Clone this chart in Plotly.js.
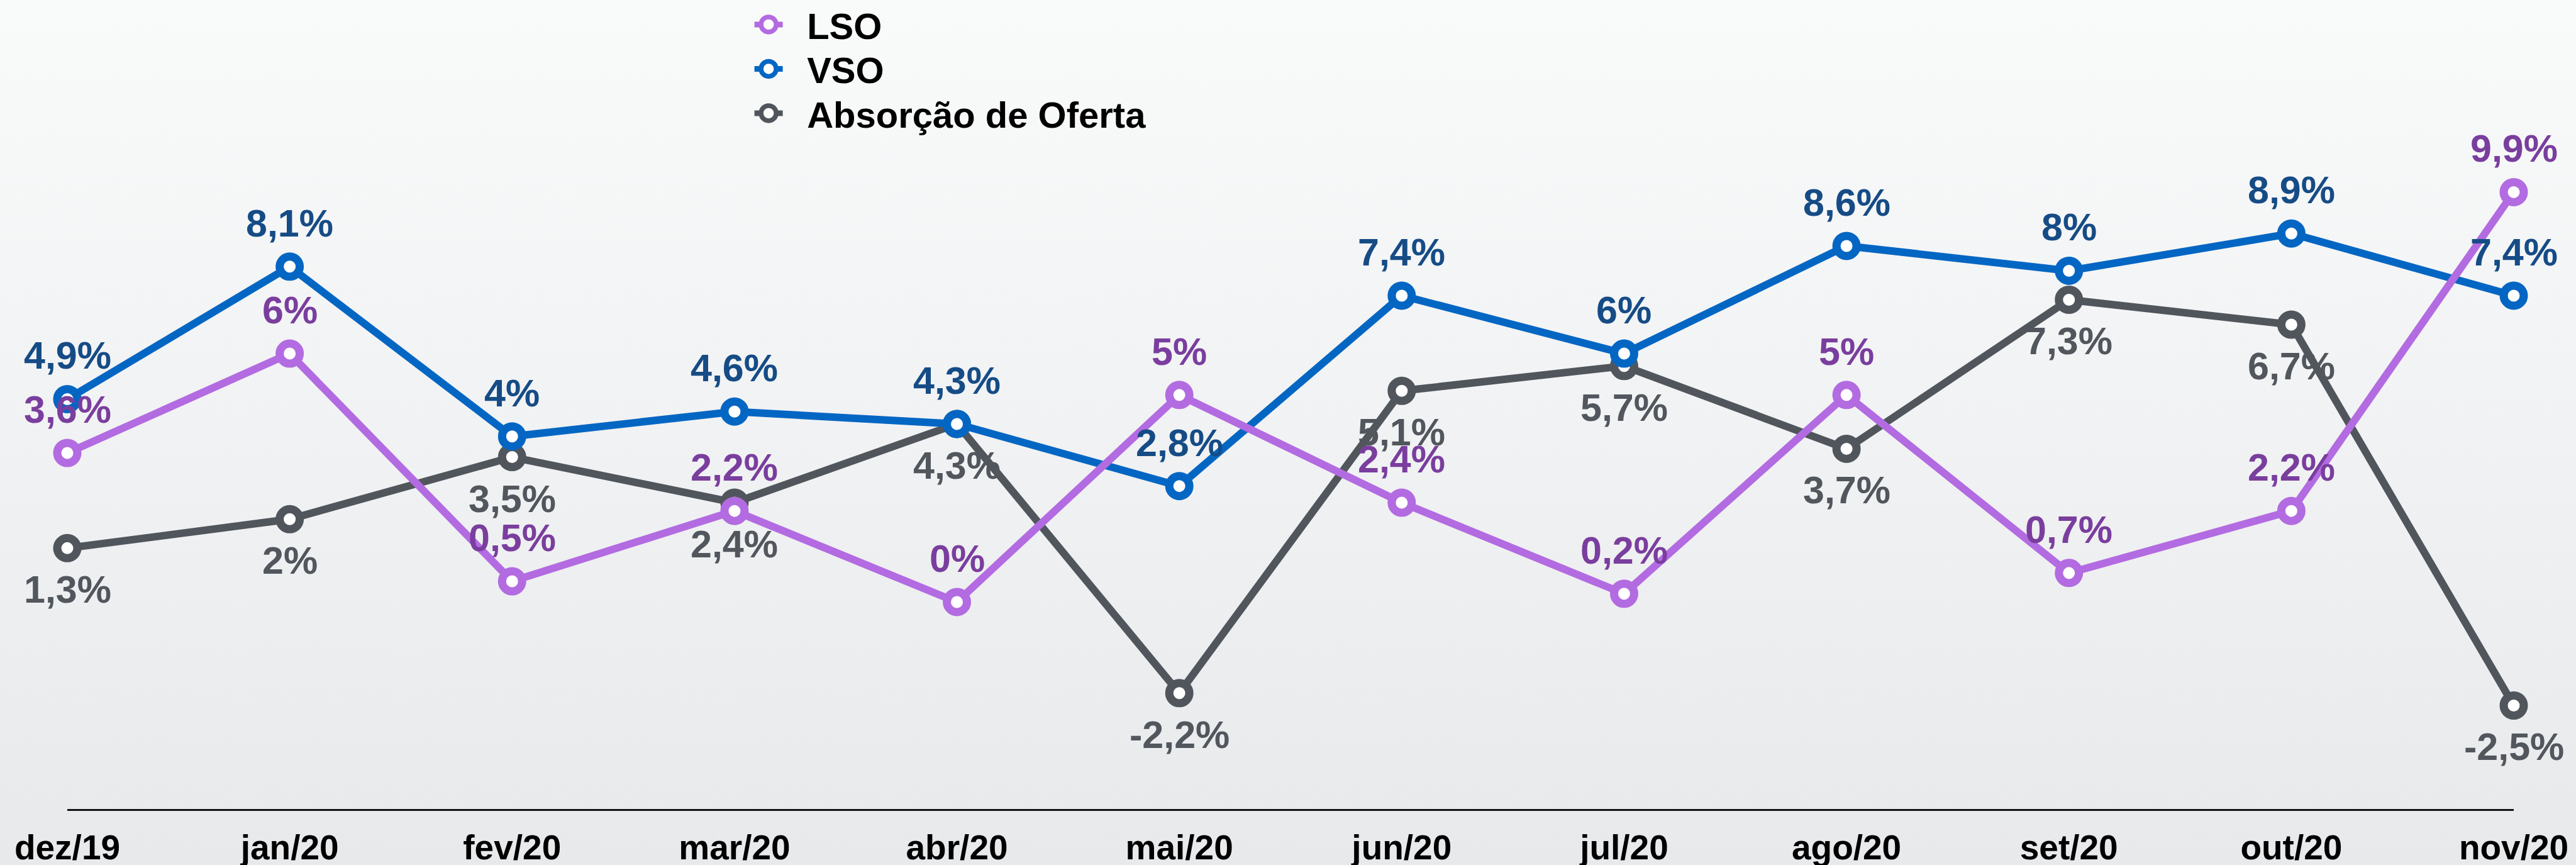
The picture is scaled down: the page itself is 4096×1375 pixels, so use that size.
<!DOCTYPE html>
<html>
<head>
<meta charset="utf-8">
<script src="https://cdn.plot.ly/plotly-3.0.1.min.js"></script>
<style>
html,body{margin:0;padding:0;width:4096px;height:1375px;overflow:hidden;
background:linear-gradient(to bottom,#f9fafa 0%,#f1f2f3 50%,#e8e9eb 100%);}
#chart{width:4096px;height:1375px;}
</style>
</head>
<body>
<div id="chart"></div>
<script>
const months = ["dez/19","jan/20","fev/20","mar/20","abr/20","mai/20","jun/20","jul/20","ago/20","set/20","out/20","nov/20"];
const lso = [3.6, 6, 0.5, 2.2, 0, 5, 2.4, 0.2, 5, 0.7, 2.2, 9.9];
const vso = [4.9, 8.1, 4, 4.6, 4.3, 2.8, 7.4, 6, 8.6, 8, 8.9, 7.4];
const absorcao = [1.3, 2, 3.5, 2.4, 4.3, -2.2, 5.1, 5.7, 3.7, 7.3, 6.7, -2.5];
const seriesNames = ["LSO", "VSO", "Absorção de Oferta"];

const fmt = v => String(v).replace('.', ',') + '%';
const FONT = '"Liberation Sans", Arial, Helvetica, sans-serif';

function mk(name, y, lineColor) {
  return {
    type: 'scatter', mode: 'lines+markers', name: name,
    x: months, y: y,
    line: {color: lineColor, width: 12},
    marker: {size: 32, color: '#ffffff', line: {color: lineColor, width: 13}},
    cliponaxis: false, hoverinfo: 'none'
  };
}

function labels(y, color, above) {
  return y.map((v, i) => ({
    x: months[i], y: v, xref: 'x', yref: 'y',
    text: fmt(v), showarrow: false,
    xanchor: 'center', yanchor: 'middle',
    yshift: above ? 69 : -66,
    font: {family: FONT, size: 61, color: color, weight: 'bold'}
  }));
}

const data = [
  mk(seriesNames[2], absorcao, '#51565d'),
  mk(seriesNames[1], vso, '#0466c3'),
  mk(seriesNames[0], lso, '#b36be1')
];

const annotations = [].concat(
  labels(absorcao, '#52575e', false),
  labels(vso, '#164c86', true),
  labels(lso, '#7a3e9e', true)
);

const layout = {
  width: 4096, height: 1375,
  paper_bgcolor: 'rgba(0,0,0,0)', plot_bgcolor: 'rgba(0,0,0,0)',
  margin: {l: 107, r: 99, t: 0, b: 89, autoexpand: false},
  font: {family: FONT, color: '#000'},
  showlegend: true,
  legend: {
    traceorder: 'reversed', xref: 'container', yref: 'container',
    x: 0.3035, y: 0.998, xanchor: 'left', yanchor: 'top',
    font: {family: FONT, size: 58, color: '#000', weight: 'bold'},
    bgcolor: 'rgba(0,0,0,0)'
  },
  annotations: annotations,
  xaxis: {
    type: 'category', range: [0, 11],
    showgrid: false, zeroline: false,
    showline: true, linecolor: '#111', linewidth: 3,
    ticks: '', ticklabelstandoff: 11,
    tickfont: {family: FONT, size: 55, color: '#000', weight: 'bold'}
  },
  yaxis: {
    range: [-5, 14.54], showgrid: false, zeroline: false,
    showline: false, showticklabels: false, ticks: ''
  }
};

Plotly.newPlot('chart', data, layout, {staticPlot: true, displayModeBar: false}).then(function (gd) {
  // let legend symbols extend beyond the legend box
  gd.querySelectorAll('.legend [clip-path]').forEach(function (e) {
    e.removeAttribute('clip-path');
  });
  // enlarge legend symbols and move them left of the text, as in the reference
  gd.querySelectorAll('.legend .traces .layers').forEach(function (g) {
    g.setAttribute('transform', 'translate(-41,0) translate(20,0) scale(1.5) translate(-20,0)');
    g.querySelectorAll('.legendlines path').forEach(function (p) {
      p.style.strokeWidth = '6px';
    });
  });
  // tighten legend item spacing
  var items = gd.querySelectorAll('.legend .traces');
  var first = null;
  items.forEach(function (t, i) {
    var m = /translate\(\s*([-\d.]+)[ ,]+([-\d.]+)\s*\)/.exec(t.getAttribute('transform') || '');
    if (!m) return;
    var x = parseFloat(m[1]), y = parseFloat(m[2]);
    if (first === null) first = y;
    t.setAttribute('transform', 'translate(' + x + ',' + (first - 8 + i * 70.5) + ')');
  });
});
</script>
</body>
</html>
